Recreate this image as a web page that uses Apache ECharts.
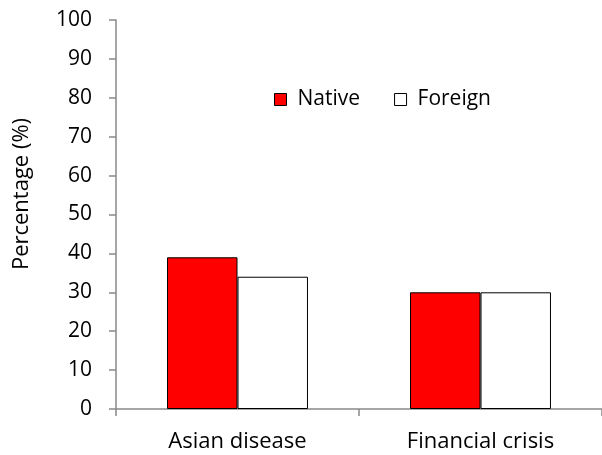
<!DOCTYPE html>
<html>
<head>
<meta charset="utf-8">
<script src="https://cdn.jsdelivr.net/npm/echarts@6/dist/echarts.min.js"></script>
<style>
  html, body { margin: 0; padding: 0; background: #fff; }
  #main { width: 602px; height: 455px; }
</style>
</head>
<body>
<div id="main"></div>
<script>
// data
var categories = ['Asian disease', 'Financial crisis'];
var nativeValues = [39, 30];
var foreignValues = [34, 30];
var yTicks = { min: 0, max: 100, interval: 10 };

var font = '"Open Sans", Lato, sans-serif';
var axisGray = '#898989';

var myChart = echarts.init(document.getElementById('main'));
myChart.setOption({
    animation: false,
    grid: { left: 116, right: 0, top: 20, bottom: 46 },
    legend: {
        data: ['Native', 'Foreign'],
        left: 269,
        top: 84,
        icon: 'rect',
        itemWidth: 12,
        itemHeight: 12,
        itemGap: 34,
        textStyle: { fontFamily: font, fontSize: 21, color: '#000', padding: [0, 0, 0, 6] },
        itemStyle: { borderColor: '#000', borderWidth: 1 }
    },
    graphic: [{
        type: 'text',
        x: 22,
        y: 194,
        rotation: Math.PI / 2,
        style: {
            text: 'Percentage (%)',
            font: '22px ' + font,
            fill: '#000',
            align: 'center',
            verticalAlign: 'middle'
        }
    }],
    xAxis: {
        type: 'category',
        data: categories,
        axisLine: { lineStyle: { color: axisGray, width: 1.5 } },
        axisTick: { show: true, length: 7, lineStyle: { color: axisGray, width: 1.5 } },
        axisLabel: { margin: 22, fontFamily: font, fontSize: 22, color: '#000' }
    },
    yAxis: {
        type: 'value',
        min: yTicks.min,
        max: yTicks.max,
        interval: yTicks.interval,
        splitLine: { show: false },
        axisLine: { show: true, lineStyle: { color: axisGray, width: 1.5 } },
        axisTick: { show: true, length: 7, lineStyle: { color: axisGray, width: 1.5 } },
        axisLabel: { margin: 24, fontFamily: font, fontSize: 21, color: '#000' }
    },
    series: [{
        name: 'Native',
        type: 'bar',
        data: nativeValues,
        barGap: '0%',
        barCategoryGap: '42%',
        itemStyle: { color: '#ff0000', borderColor: '#000', borderWidth: 1 }
    }, {
        name: 'Foreign',
        type: 'bar',
        data: foreignValues,
        itemStyle: { color: '#ffffff', borderColor: '#000', borderWidth: 1 }
    }]
});
</script>
</body>
</html>
